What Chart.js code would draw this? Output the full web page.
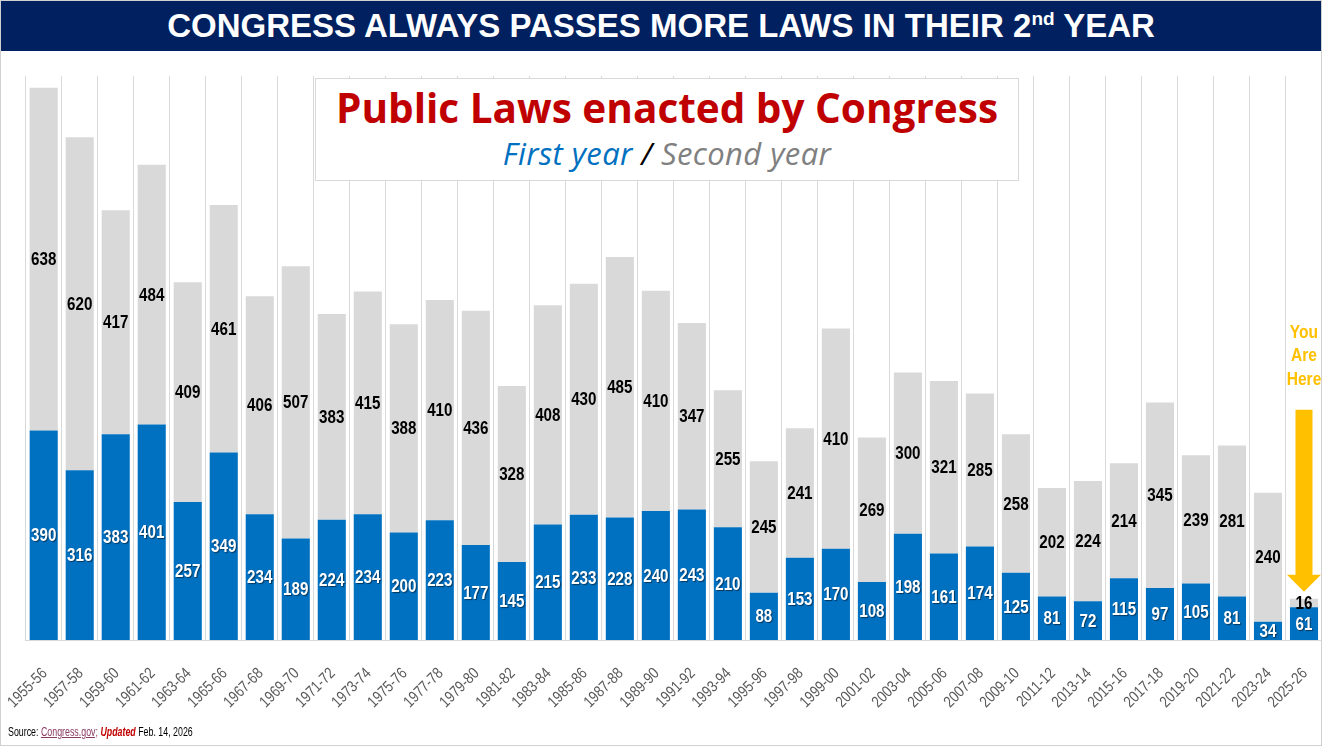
<!DOCTYPE html>
<html>
<head>
<meta charset="utf-8">
<script src="https://cdn.jsdelivr.net/npm/chart.js@4"></script>
<style>
  html, body { margin:0; padding:0; background:#fff; }
  #wrap { position:relative; width:1322px; height:746px; overflow:hidden; background:#fff; }
  #frame { position:absolute; left:0; top:0; width:1320px; height:744px; border:1px solid #D0D0D0; pointer-events:none; z-index:5; }
  #titlebar { position:absolute; left:1px; top:1px; width:1320px; height:50px; background:#002060; color:#fff;
    font-family:"Liberation Sans", Arial, sans-serif; font-weight:bold; font-size:33px; text-align:center; line-height:50px; z-index:3; }
  #titlebar sup { font-size:19px; vertical-align:top; position:relative; top:-7px; }
  #cv { position:absolute; left:0; top:0; }
  #box { position:absolute; left:315px; top:78px; width:702px; height:101px; background:#fff; border:1px solid #D9D9D9; z-index:2; text-align:center; font-family:"Open Sans", Roboto, sans-serif; white-space:nowrap; }
  #box .t1 { color:#C00000; font-weight:bold; font-size:40.5px; margin-top:5px; line-height:47px; }
  #box .t2 { font-style:italic; font-size:31px; line-height:35px; margin-top:5px; letter-spacing:0.4px; }
  #source { position:absolute; left:8px; top:724px; font-family:"Liberation Sans", Arial, sans-serif; font-size:13px; color:#000; z-index:2; transform:scaleX(0.68); transform-origin:0 0; white-space:nowrap; }
  #source .lnk { color:#8B3A62; text-decoration:underline; }
  #source .upd { color:#C00000; font-weight:bold; font-style:italic; }
</style>
</head>
<body>
<div id="wrap">
  <canvas id="cv" width="1322" height="746"></canvas>
  <div id="titlebar">CONGRESS ALWAYS PASSES MORE LAWS IN THEIR 2<sup>nd</sup> YEAR</div>
  <div id="box">
    <div class="t1">Public Laws enacted by Congress</div>
    <div class="t2"><span style="color:#0070C0">First year</span> <span style="color:#000">/</span> <span style="color:#808080">Second year</span></div>
  </div>
  <div id="source">Source: <span class="lnk">Congress.gov;</span> <span class="upd">Updated</span> Feb. 14, 2026</div>
  <div id="frame"></div>
</div>
<script>
const categories = ["1955-56","1957-58","1959-60","1961-62","1963-64","1965-66","1967-68","1969-70","1971-72","1973-74","1975-76","1977-78","1979-80","1981-82","1983-84","1985-86","1987-88","1989-90","1991-92","1993-94","1995-96","1997-98","1999-00","2001-02","2003-04","2005-06","2007-08","2009-10","2011-12","2013-14","2015-16","2017-18","2019-20","2021-22","2023-24","2025-26"];
const firstYear = [390,316,383,401,257,349,234,189,224,234,200,223,177,145,215,233,228,240,243,210,88,153,170,108,198,161,174,125,81,72,115,97,105,81,34,61];
const secondYear = [638,620,417,484,409,461,406,507,383,415,388,410,436,328,408,430,485,410,347,255,245,241,410,269,300,321,285,258,202,224,214,345,239,281,240,16];
const yMax = 1050;
const hereText = ["You","Are","Here"];

const FONT = '"Liberation Sans", Arial, sans-serif';
const NARROW = 0.82;

function narrowText(ctx, text, x, y, align) {
  ctx.save();
  ctx.translate(x, y);
  ctx.scale(NARROW, 1);
  ctx.textAlign = align || 'center';
  ctx.fillText(text, 0, 0);
  ctx.restore();
}

const labelPlugin = {
  id: 'barLabels',
  afterDraw(chart) {
    const ctx = chart.ctx;
    const xs = chart.scales.x;
    const area = chart.chartArea;
    ctx.save();
    ctx.fillStyle = '#595959';
    ctx.font = '16px ' + FONT;
    ctx.textBaseline = 'middle';
    categories.forEach((c, i) => {
      const x = xs.getPixelForTick(i);
      ctx.save();
      ctx.translate(x + 1, area.bottom + 31);
      ctx.rotate(-Math.PI / 4);
      ctx.scale(NARROW, 1);
      ctx.textAlign = 'right';
      ctx.fillText(c, 0, 0);
      ctx.restore();
    });
    ctx.restore();
  },
  afterDatasetsDraw(chart) {
    const ctx = chart.ctx;
    ctx.save();
    ctx.font = 'bold 18.5px ' + FONT;
    ctx.textBaseline = 'middle';
    chart.data.datasets.forEach((ds, di) => {
      const meta = chart.getDatasetMeta(di);
      meta.data.forEach((bar, i) => {
        const v = ds.data[i];
        const cy = (bar.y + bar.base) / 2;
        if (di === 0) {
          ctx.shadowColor = 'rgba(0,0,0,0.5)';
          ctx.shadowOffsetX = 1; ctx.shadowOffsetY = 1; ctx.shadowBlur = 1;
          ctx.fillStyle = '#FFFFFF';
        } else {
          ctx.shadowColor = 'transparent';
          ctx.fillStyle = '#000000';
        }
        narrowText(ctx, String(v), bar.x, cy + 1);
      });
    });
    ctx.restore();

    const last = categories.length - 1;
    const bar = chart.getDatasetMeta(1).data[last];
    const x = bar.x;
    const tip = bar.y - 7;
    ctx.save();
    ctx.fillStyle = '#FFC000';
    ctx.beginPath();
    ctx.moveTo(x - 8.5, tip - 182);
    ctx.lineTo(x + 8.5, tip - 182);
    ctx.lineTo(x + 8.5, tip - 17);
    ctx.lineTo(x + 17, tip - 17);
    ctx.lineTo(x, tip);
    ctx.lineTo(x - 17, tip - 17);
    ctx.lineTo(x - 8.5, tip - 17);
    ctx.closePath();
    ctx.fill();
    ctx.font = 'bold 19px ' + FONT;
    ctx.textBaseline = 'middle';
    hereText.forEach((t, k) => narrowText(ctx, t, x, tip - 259 + k * 23.5));
    ctx.restore();
  }
};

new Chart(document.getElementById('cv'), {
  type: 'bar',
  data: {
    labels: categories,
    datasets: [
      { label: 'First year', data: firstYear, backgroundColor: '#0070C0', categoryPercentage: 0.78, barPercentage: 1 },
      { label: 'Second year', data: secondYear, backgroundColor: '#D9D9D9', categoryPercentage: 0.78, barPercentage: 1 }
    ]
  },
  options: {
    responsive: false,
    animation: false,
    devicePixelRatio: 1,
    layout: { padding: { left: 25.7, right: 0, top: 76, bottom: 0 } },
    plugins: { legend: { display: false }, tooltip: { enabled: false } },
    scales: {
      x: {
        stacked: true,
        afterFit: (s) => { s.height = 106; },
        grid: { display: true, offset: true, color: '#D9D9D9', lineWidth: 1, drawTicks: false },
        border: { display: true, color: '#D9D9D9' },
        ticks: { display: false, autoSkip: false }
      },
      y: {
        stacked: true, display: false, min: 0, max: yMax,
        grid: { display: false }
      }
    }
  },
  plugins: [labelPlugin]
});
</script>
</body>
</html>
